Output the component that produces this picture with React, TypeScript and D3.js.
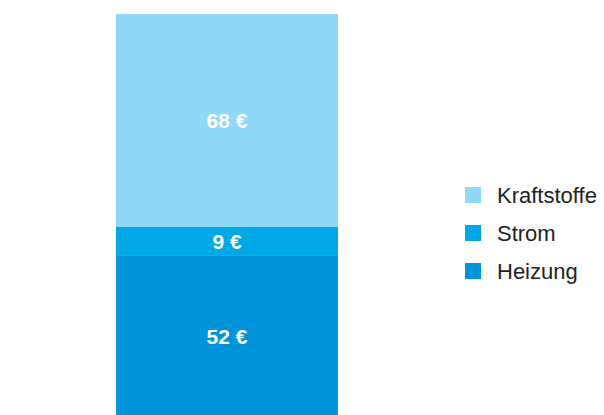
import React from "react";
import * as d3 from "d3";

const categories = ["Heizung", "Strom", "Kraftstoffe"];
const values = [52, 9, 68];
const colors = ["#0095da", "#00a8e5", "#8fd8f7"];
const legendOrder = ["Kraftstoffe", "Strom", "Heizung"];

export default function App() {
  const W = 604, H = 415;
  const total = d3.sum(values);
  const y = d3.scaleLinear().domain([0, total]).range([418, 14]);
  const x0 = 116, x1 = 338;
  const stack = d3.stack<any>().keys(categories)([
    Object.fromEntries(categories.map((c, i) => [c, values[i]])),
  ]);
  const colorOf = (k: string) => colors[categories.indexOf(k)];
  const legendY = d3.scalePoint<string>().domain(legendOrder).range([195, 271]);
  return (
    <svg width={W} height={H} style={{ position: "absolute", left: 0, top: 0 }}
      fontFamily="'Liberation Sans', Arial, sans-serif">
      {stack.map((s, i) => {
        const [a, b] = s[0];
        return (
          <g key={s.key}>
            <rect x={x0} width={x1 - x0} y={y(b)} height={y(a) - y(b)} fill={colorOf(s.key)} />
            <text x={(x0 + x1) / 2} y={(y(a) + y(b)) / 2} dy="0.36em" textAnchor="middle"
              fill="#fff" fontWeight="bold" fontSize={21}>
              {values[i]} €
            </text>
          </g>
        );
      })}
      {legendOrder.map((k) => (
        <g key={k} transform={`translate(465,${legendY(k)})`}>
          <rect x={0} y={-8} width={16} height={16} fill={colorOf(k)} />
          <text x={32} y={0} dy="0.36em" fontSize={22} fill="#222">{k}</text>
        </g>
      ))}
    </svg>
  );
}
